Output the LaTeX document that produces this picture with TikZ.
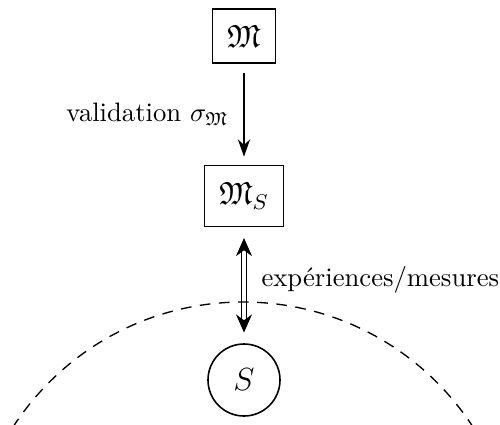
\documentclass[tikz,border=0pt]{standalone}
\usepackage{amssymb}
\usetikzlibrary{arrows.meta}
\begin{document}
\begin{tikzpicture}[x=0.375pt,y=-0.375pt,
  box/.style={draw, line width=0.6pt, inner sep=0pt, font=\large},
  arr/.style={-{Stealth[length=6.5pt,width=4.6pt]}, line width=0.6pt},
  darr/.style={{Stealth[length=6.8pt,width=6pt]}-{Stealth[length=6.8pt,width=6pt]}, double, line width=0.5pt, double distance=1.4pt}]
\useasboundingbox (0,0) rectangle (500,425);
\clip (0,0) rectangle (500,425);
\node[box, minimum width=23.6pt, minimum height=20.3pt] (M) at (244,36) {$\mathfrak{M}$};
\node[box, minimum width=29.6pt, minimum height=22.9pt] (MS) at (244,196) {$\mathfrak{M}_S$};
\node[draw, circle, line width=0.6pt, minimum size=27pt, inner sep=0pt, font=\large] (S) at (244,380) {$S$};
\draw[arr, shorten <=3.6pt, shorten >=3pt] (M.south) -- (MS.north)
  node[midway, left=2pt] (lv) {validation $\sigma_{\mathfrak{M}}$};
\draw[darr, shorten <=4pt, shorten >=4pt] (MS.south) -- (S.north)
  node[pos=0.45, right=3pt] (le) {expériences/mesures};
\coordinate (c) at (243,576);
\draw[line width=0.5pt, dash pattern=on 4pt off 3.2pt] (c) circle[radius=274];
\end{tikzpicture}
\end{document}
